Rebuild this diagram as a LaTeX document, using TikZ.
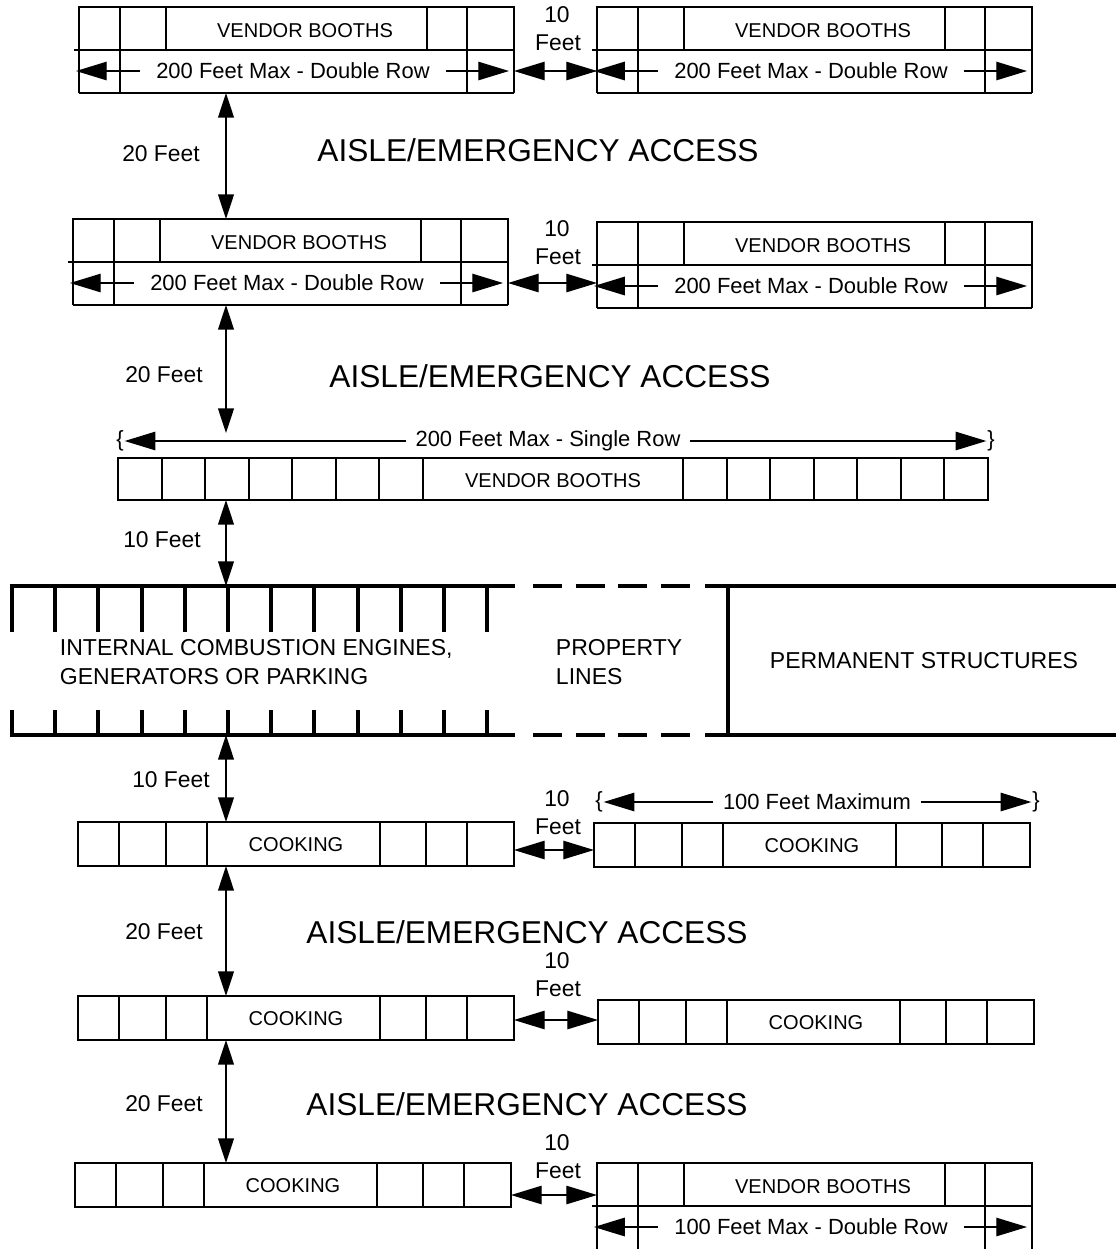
\documentclass[tikz,border=0pt]{standalone}
\usepackage{fontspec}
\setmainfont{Liberation Sans}
\usetikzlibrary{arrows.meta}

\begin{document}
\begin{tikzpicture}[x=0.02cm,y=-0.02cm,line width=1.1pt,
   >={Triangle[length=17.5pt,width=10.5pt]},
   dim/.style={line width=.8pt},
   vdim/.style={line width=.8pt,{Triangle[length=14pt,width=9pt]}-{Triangle[length=14pt,width=9pt]}},
   booth/.style={font=\fontsize{11.4}{13}\selectfont,inner sep=0pt},
   lenlab/.style={font=\fontsize{12.5}{15}\selectfont,inner ysep=0pt,inner xsep=9pt},
   brace/.style={font=\fontsize{12.5}{15}\selectfont,inner sep=0pt},
   feet/.style={font=\fontsize{13}{15}\selectfont,inner sep=0pt},
   aisle/.style={font=\fontsize{18}{20}\selectfont,inner sep=0pt},
   zone/.style={font=\fontsize{13.1}{17}\selectfont,inner sep=0pt,align=left},
   lot/.style={line width=2.3pt}]
\useasboundingbox (0,0) rectangle (1116,1249);

\foreach \x/\y/\n [count=\i] in {79/7/200, 597/7/200, 73/219/200, 597/222/200, 597/1163/100} {
  \draw (\x,\y+86) |- (\x+435,\y) -- ++(0,86) (\x-5,\y+43) -- ++(440,0);
  \foreach \d in {41,87,348,388} \draw (\x+\d,\y) -- ++(0,43);
  \foreach \d in {41,388} \draw (\x+\d,\y+43) -- ++(0,43);
  \node[booth] (vb\i) at (\x+226,\y+24) {VENDOR BOOTHS};
  \node[lenlab] (len\i) at (\x+214,\y+64) {\n\ Feet Max - Double Row};
  \coordinate (len\i w) at (\x-3,\y+64);
  \coordinate (len\i e) at (\x+430,\y+64);
  \draw[dim,->] (len\i) -- (len\i w);
  \draw[dim,->] (len\i) -- (len\i e);
}
\foreach \x/\y in {79/93, 597/93, 73/305, 597/308} \draw (\x,\y) -- ++(435,0);

\draw (118,458) rectangle (988,500);
\foreach \x in {162,205,249,292,336,379,423,683,727,770,814,857,901,944} \draw (\x,458) -- (\x,500);
\node[booth] (vbC) at (553,481) {VENDOR BOOTHS};
\node[lenlab,inner xsep=5pt] (lenC) at (548,441) {200 Feet Max - Single Row};
\node[brace] (brC1) at (120,441) {\{};
\node[brace] (brC2) at (991,441) {\}};
\draw[dim,->] (lenC) -- (brC1);
\draw[dim,->] (lenC) -- (brC2);

\draw[lot] (10,586) -- (515,586) (10,735) -- (515,735);
\foreach \k in {0,...,11} \draw[lot] (12+43.2*\k,586) -- ++(0,46) (12+43.2*\k,735) -- ++(0,-25);
\draw[lot,dash pattern=on 16.4pt off 7.9pt] (533,586) -- (700,586) (533,735) -- (700,735);
\draw[lot] (705,586) -- (1116,586) (705,735) -- (1116,735) (728,586) -- (728,735);
\node[zone,anchor=west] (engines) at (59,662) {INTERNAL COMBUSTION ENGINES,\\GENERATORS OR PARKING};
\node[zone,anchor=west] (prop) at (555,662) {PROPERTY\\LINES};
\node[zone] (perm) at (924,661) {PERMANENT STRUCTURES};

\foreach \x/\y [count=\i] in {78/822, 594/823, 78/996, 598/1000, 75/1163} {
  \draw (\x,\y) rectangle ++(436,44);
  \foreach \d in {41,88,129,302,348,389} \draw (\x+\d,\y) -- ++(0,44);
  \node[booth] (cook\i) at (\x+218,\y+23) {COOKING};
}
\node[lenlab,inner xsep=5pt] (lenD) at (817,802) {100 Feet Maximum};
\node[brace] (brD1) at (599,802) {\{};
\node[brace] (brD2) at (1036,802) {\}};
\draw[dim,->] (lenD) -- (brD1);
\draw[dim,->] (lenD) -- (brD2);

\foreach \x/\y [count=\i] in {538/150, 550/376, 527/932, 527/1104}
  \node[aisle] (aisle\i) at (\x,\y) {AISLE/EMERGENCY ACCESS};

\foreach \a/\b/\d/\ly/\lx [count=\i] in {93/219/20/154/161, 305/433/20/375/164, 500/586/10/540/162, 735/822/10/780/171, 866/996/20/932/164, 1040/1163/20/1104/164} {
  \coordinate (v\i a) at (226,\a);
  \coordinate (v\i b) at (226,\b);
  \draw[vdim] (v\i a) -- (v\i b);
  \node[feet] (vl\i) at (\lx,\ly) {\d\ Feet};
}

\foreach \xa/\xb/\y/\ty [count=\i] in {514/597/71/15, 508/597/283/229, 514/594/850/799, 514/598/1020/961, 511/597/1195/1143} {
  \coordinate (g\i a) at (\xa,\y);
  \coordinate (g\i b) at (\xb,\y);
  \draw[dim,<->] (g\i a) -- (g\i b);
  \node[feet] (ten\i) at (557,\ty) {10};
  \node[feet] (ft\i) at (558,\ty+28) {Feet};
}
\end{tikzpicture}
\end{document}
